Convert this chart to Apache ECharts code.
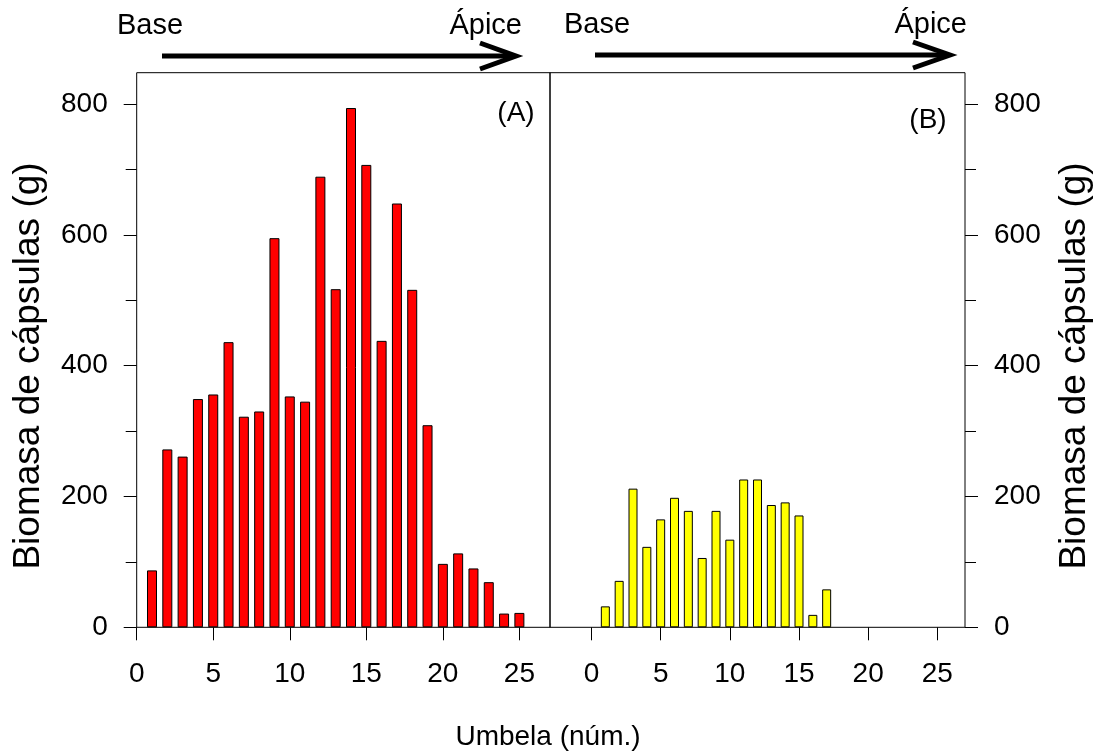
<!DOCTYPE html>
<html>
<head>
<meta charset="utf-8">
<script src="https://cdn.jsdelivr.net/npm/echarts@6/dist/echarts.min.js"></script>
<style>
html,body{margin:0;padding:0;background:#fff;}
#chart{width:1096px;height:755px;}
</style>
</head>
<body>
<div id="chart"></div>
<script>
// Data
const umbelas = [1,2,3,4,5,6,7,8,9,10,11,12,13,14,15,16,17,18,19,20,21,22,23,24,25];
const biomasaA = [87,272,261,349,356,436,322,330,595,353,345,689,517,794,707,438,648,516,309,97,113,90,69,21,22];
const biomasaB = [32,71,212,123,165,198,178,106,178,134,226,226,187,191,171,19,58,0,0,0,0,0,0,0,0];
const xTicks = [0,5,10,15,20,25];
const yMajor = [0,200,400,600,800];
const yMinor = [100,300,500,700];
const panelLabels = ['(A)','(B)'];

const FONT = 'Liberation Sans, Arial, sans-serif';
const FS = 28;

const chart = echarts.init(document.getElementById('chart'), null, {renderer:'canvas'});

function xAxisCfg(gi, min){
  return {
    gridIndex: gi, type:'value', min:min, max:27,
    axisLine:{show:false, onZero:false}, splitLine:{show:false},
    axisTick:{show:true, customValues:xTicks, length:13, lineStyle:{color:'#000', width:1}},
    axisLabel:{show:true, customValues:xTicks, margin:33, fontSize:FS, color:'#000', fontFamily:FONT}
  };
}
function yAxisCfg(gi, pos, ticks, len, labels){
  return {
    gridIndex: gi, type:'value', min:0, max:848, position:pos,
    axisLine:{show:false, onZero:false}, splitLine:{show:false},
    axisTick:{show:true, customValues:ticks, length:len, lineStyle:{color:'#000', width:1}},
    axisLabel:{show:labels, customValues:ticks, margin:29, fontSize:FS, color:'#000', fontFamily:FONT}
  };
}
function barData(vals){
  return umbelas.map((u,i)=> vals[i] === 0
    ? {value:[u, vals[i]], itemStyle:{borderWidth:0}}
    : {value:[u, vals[i]]});
}

const option = {
  backgroundColor:'#fff',
  animation:false,
  grid:[
    {left:136.7, top:72.7, width:413.3, height:554.6, show:true, borderColor:'#000', borderWidth:1, backgroundColor:'transparent'},
    {left:550, top:72.7, width:415, height:554.6, show:true, borderColor:'#000', borderWidth:1, backgroundColor:'transparent'}
  ],
  xAxis:[ xAxisCfg(0,0), xAxisCfg(1,-3) ],
  yAxis:[
    yAxisCfg(0,'left',yMajor,13,true),
    yAxisCfg(0,'left',yMinor,11,false),
    yAxisCfg(1,'right',yMajor,13,true),
    yAxisCfg(1,'right',yMinor,11,false)
  ],
  series:[
    {type:'bar', xAxisIndex:0, yAxisIndex:0, barWidth:10,
     data: barData(biomasaA),
     itemStyle:{color:'#ff0000', borderColor:'#000', borderWidth:1}},
    {type:'bar', xAxisIndex:1, yAxisIndex:2, barWidth:9,
     data: barData(biomasaB),
     itemStyle:{color:'#ffff00', borderColor:'#000', borderWidth:1}}
  ],
  graphic:[
    {type:'text', x:516, y:113, style:{text:panelLabels[0], font:FS+'px '+FONT, fill:'#000', textAlign:'center', textVerticalAlign:'middle'}},
    {type:'text', x:928, y:120, style:{text:panelLabels[1], font:FS+'px '+FONT, fill:'#000', textAlign:'center', textVerticalAlign:'middle'}},
    {type:'text', x:29, y:366, rotation:Math.PI/2, style:{text:'Biomasa de cápsulas (g)', font:'37px '+FONT, fill:'#000', textAlign:'center', textVerticalAlign:'middle'}},
    {type:'text', x:1075, y:366, rotation:Math.PI/2, style:{text:'Biomasa de cápsulas (g)', font:'37px '+FONT, fill:'#000', textAlign:'center', textVerticalAlign:'middle'}},
    {type:'text', x:548, y:737, style:{text:'Umbela (núm.)', font:FS+'px '+FONT, fill:'#000', textAlign:'center', textVerticalAlign:'middle'}},
    {type:'text', x:117, y:26, style:{text:'Base', font:'29px '+FONT, fill:'#000', textAlign:'left', textVerticalAlign:'middle'}},
    {type:'text', x:522, y:26, style:{text:'Ápice', font:'29px '+FONT, fill:'#000', textAlign:'right', textVerticalAlign:'middle'}},
    {type:'text', x:564, y:25, style:{text:'Base', font:'29px '+FONT, fill:'#000', textAlign:'left', textVerticalAlign:'middle'}},
    {type:'text', x:967, y:25, style:{text:'Ápice', font:'29px '+FONT, fill:'#000', textAlign:'right', textVerticalAlign:'middle'}},
    {type:'line', shape:{x1:162, y1:56, x2:514, y2:56}, style:{stroke:'#000', lineWidth:5}},
    {type:'polyline', shape:{points:[[480,43],[516,56],[480,69]]}, style:{stroke:'#000', lineWidth:5, fill:null}},
    {type:'line', shape:{x1:595, y1:55, x2:948, y2:55}, style:{stroke:'#000', lineWidth:5}},
    {type:'polyline', shape:{points:[[913,42],[950,55],[913,68]]}, style:{stroke:'#000', lineWidth:5, fill:null}}
  ]
};
chart.setOption(option);
</script>
</body>
</html>
